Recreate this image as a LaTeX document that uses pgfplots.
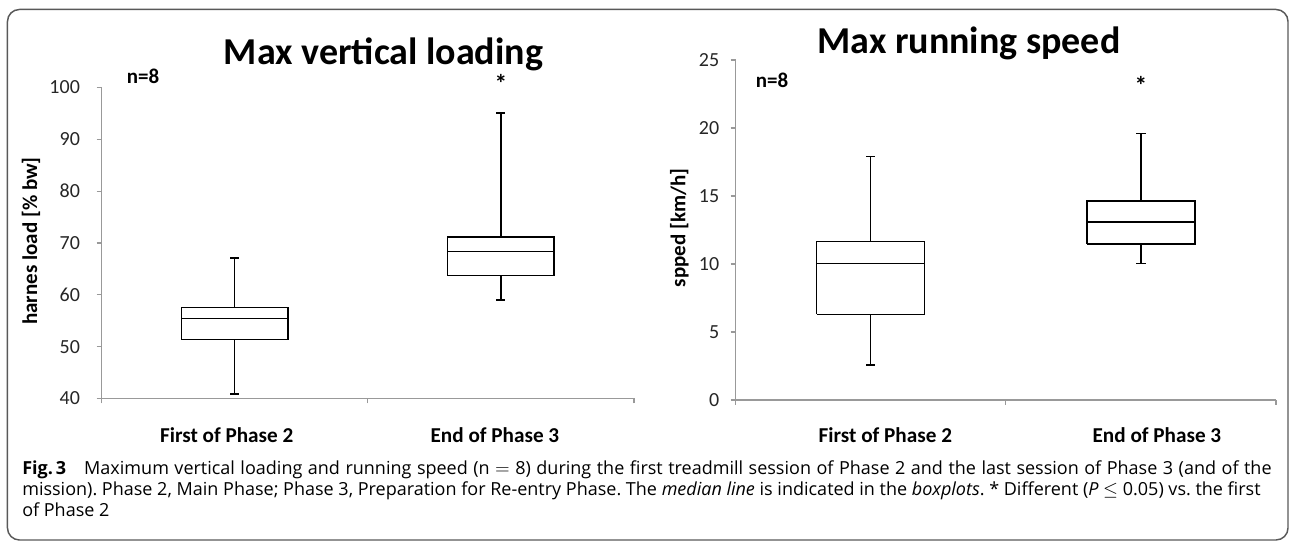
\documentclass[border=0pt]{standalone}
\usepackage{fontspec}
\setmainfont{Carlito}
\newfontfamily\capfont{Open Sans}
\usepackage{pgfplots}
\pgfplotsset{compat=1.18}
\pgfplotsset{
  boxax/.style={
    scale only axis,
    axis lines=left,
    axis line style={-, draw=gray!80, line width=0.8pt},
    tick style={draw=gray!80, line width=0.8pt},
    tick align=outside,
    major tick length=3.75pt,
    xmin=0, xmax=2,
    xtick={0,1,2},
    xticklabels={},
    /pgf/number format/assume math mode=true,
    yticklabel style={font=\fontsize{15pt}{18pt}\selectfont, text=black!85},
    clip=false,
  },
  bx/.style={draw=black, line width=1.1pt, solid, mark=none},
}
\tikzset{xl/.style={font=\bfseries\fontsize{15.9pt}{18pt}\selectfont, anchor=center}}
\begin{document}
\frenchspacing
\begin{tikzpicture}
\path[use as bounding box] (0pt,0pt) rectangle (969pt,406.5pt);
\draw[black!65, line width=1.1pt, rounded corners=9pt] (5.6pt,399.4pt) rectangle (966pt,1.5pt);

% ---------- left chart ----------
\begin{axis}[boxax,
  at={(76.2pt,107.625pt)}, anchor=south west,
  width=399.3pt, height=233.25pt,
  ymin=40, ymax=100, ytick={40,50,60,70,80,90,100},
  yticklabel style={xshift=-9pt},
]
% First of Phase 2: whiskers 40.9 / 67.1, quartiles 51.4 / 57.6, median 55.4
\addplot[bx] coordinates {(0.3,51.4) (0.7,51.4) (0.7,57.6) (0.3,57.6) (0.3,51.4)};
\addplot[bx] coordinates {(0.3,55.4) (0.7,55.4)};
\addplot[bx] coordinates {(0.5,57.6) (0.5,67.1)};
\addplot[bx] coordinates {(0.5,51.4) (0.5,40.9)};
\addplot[bx] coordinates {(0.483,67.1) (0.517,67.1)};
\addplot[bx] coordinates {(0.483,40.9) (0.517,40.9)};
% End of Phase 3: whiskers 59.0 / 95.1, quartiles 63.7 / 71.2, median 68.4
\addplot[bx] coordinates {(1.3,63.7) (1.7,63.7) (1.7,71.2) (1.3,71.2) (1.3,63.7)};
\addplot[bx] coordinates {(1.3,68.4) (1.7,68.4)};
\addplot[bx] coordinates {(1.5,71.2) (1.5,95.1)};
\addplot[bx] coordinates {(1.5,63.7) (1.5,59.0)};
\addplot[bx] coordinates {(1.483,95.1) (1.517,95.1)};
\addplot[bx] coordinates {(1.483,59.0) (1.517,59.0)};
\node[xl, xshift=-6pt, yshift=-27.4pt] at (axis cs:0.5,40) {First of Phase 2};
\node[xl, xshift=-4.5pt, yshift=-27.4pt] at (axis cs:1.5,40) {End of Phase 3};
\node[font=\bfseries\fontsize{19pt}{20pt}\selectfont, inner sep=0pt, yshift=-4pt] at (axis cs:1.5,101.8) {*};
\end{axis}

% ---------- right chart ----------
\begin{axis}[boxax,
  at={(551.7pt,106.5pt)}, anchor=south west,
  width=405.3pt, height=255pt,
  ymin=0, ymax=25, ytick={0,5,10,15,20,25},
  yticklabel style={xshift=-5pt},
]
% First of Phase 2: whiskers 2.57 / 17.9, quartiles 6.3 / 11.64, median 10.05
\addplot[bx] coordinates {(0.3,6.3) (0.7,6.3) (0.7,11.64) (0.3,11.64) (0.3,6.3)};
\addplot[bx] coordinates {(0.3,10.05) (0.7,10.05)};
\addplot[bx] coordinates {(0.5,11.64) (0.5,17.9)};
\addplot[bx] coordinates {(0.5,6.3) (0.5,2.57)};
\addplot[bx] coordinates {(0.483,17.9) (0.517,17.9)};
\addplot[bx] coordinates {(0.483,2.57) (0.517,2.57)};
% End of Phase 3: whiskers 10.05 / 19.6, quartiles 11.47 / 14.63, median 13.1
\addplot[bx] coordinates {(1.3,11.47) (1.7,11.47) (1.7,14.63) (1.3,14.63) (1.3,11.47)};
\addplot[bx] coordinates {(1.3,13.1) (1.7,13.1)};
\addplot[bx] coordinates {(1.5,14.63) (1.5,19.6)};
\addplot[bx] coordinates {(1.5,11.47) (1.5,10.05)};
\addplot[bx] coordinates {(1.483,19.6) (1.517,19.6)};
\addplot[bx] coordinates {(1.483,10.05) (1.517,10.05)};
\node[xl, xshift=11pt, yshift=-26.25pt] at (axis cs:0.5,0) {First of Phase 2};
\node[xl, xshift=12pt, yshift=-26.25pt] at (axis cs:1.5,0) {End of Phase 3};
\node[font=\bfseries\fontsize{19pt}{20pt}\selectfont, inner sep=0pt, yshift=-4pt] at (axis cs:1.5,23.5) {*};
\end{axis}

% titles and labels
\node[anchor=base, font=\bfseries\fontsize{28.5pt}{34pt}\selectfont, inner sep=0pt] at (287.6pt,357.75pt) {Max vertical loading};
\node[anchor=base, font=\bfseries\fontsize{28.5pt}{34pt}\selectfont, inner sep=0pt] at (726.75pt,366.5pt) {Max running speed};
\node[anchor=base west, font=\bfseries\fontsize{15.75pt}{18pt}\selectfont, inner sep=0pt] at (95pt,344pt) {n=8};
\node[anchor=base west, font=\bfseries\fontsize{15.75pt}{18pt}\selectfont, inner sep=0pt] at (566.7pt,341pt) {n=8};
\node[rotate=90, font=\bfseries\fontsize{15.75pt}{18pt}\selectfont, inner sep=0pt] at (23.25pt,225.75pt) {harnes load [\% bw]};
\node[rotate=90, font=\bfseries\fontsize{15.75pt}{18pt}\selectfont, inner sep=0pt] at (509.6pt,235.5pt) {spped [km/h]};

% caption
\begin{scope}[every node/.style={anchor=base west, inner sep=0pt, font=\capfont\fontsize{13.5pt}{15pt}\selectfont}]
\node at (16.5pt,50.8pt) {\makebox[937pt][s]{\textbf{Fig.\,3}\hspace{1em}Maximum vertical loading and running speed (n $=$ 8) during the first treadmill session of Phase 2 and the last session of Phase 3 (and of the}};
\node at (16.5pt,34.5pt) {mission). Phase 2, Main Phase; Phase 3, Preparation for Re-entry Phase. The \textit{median line} is indicated in the \textit{boxplots}. * Different (\textit{P} $\leq$ 0.05) vs. the first};
\node at (16.5pt,19pt) {of Phase 2};
\end{scope}
\end{tikzpicture}
\end{document}
